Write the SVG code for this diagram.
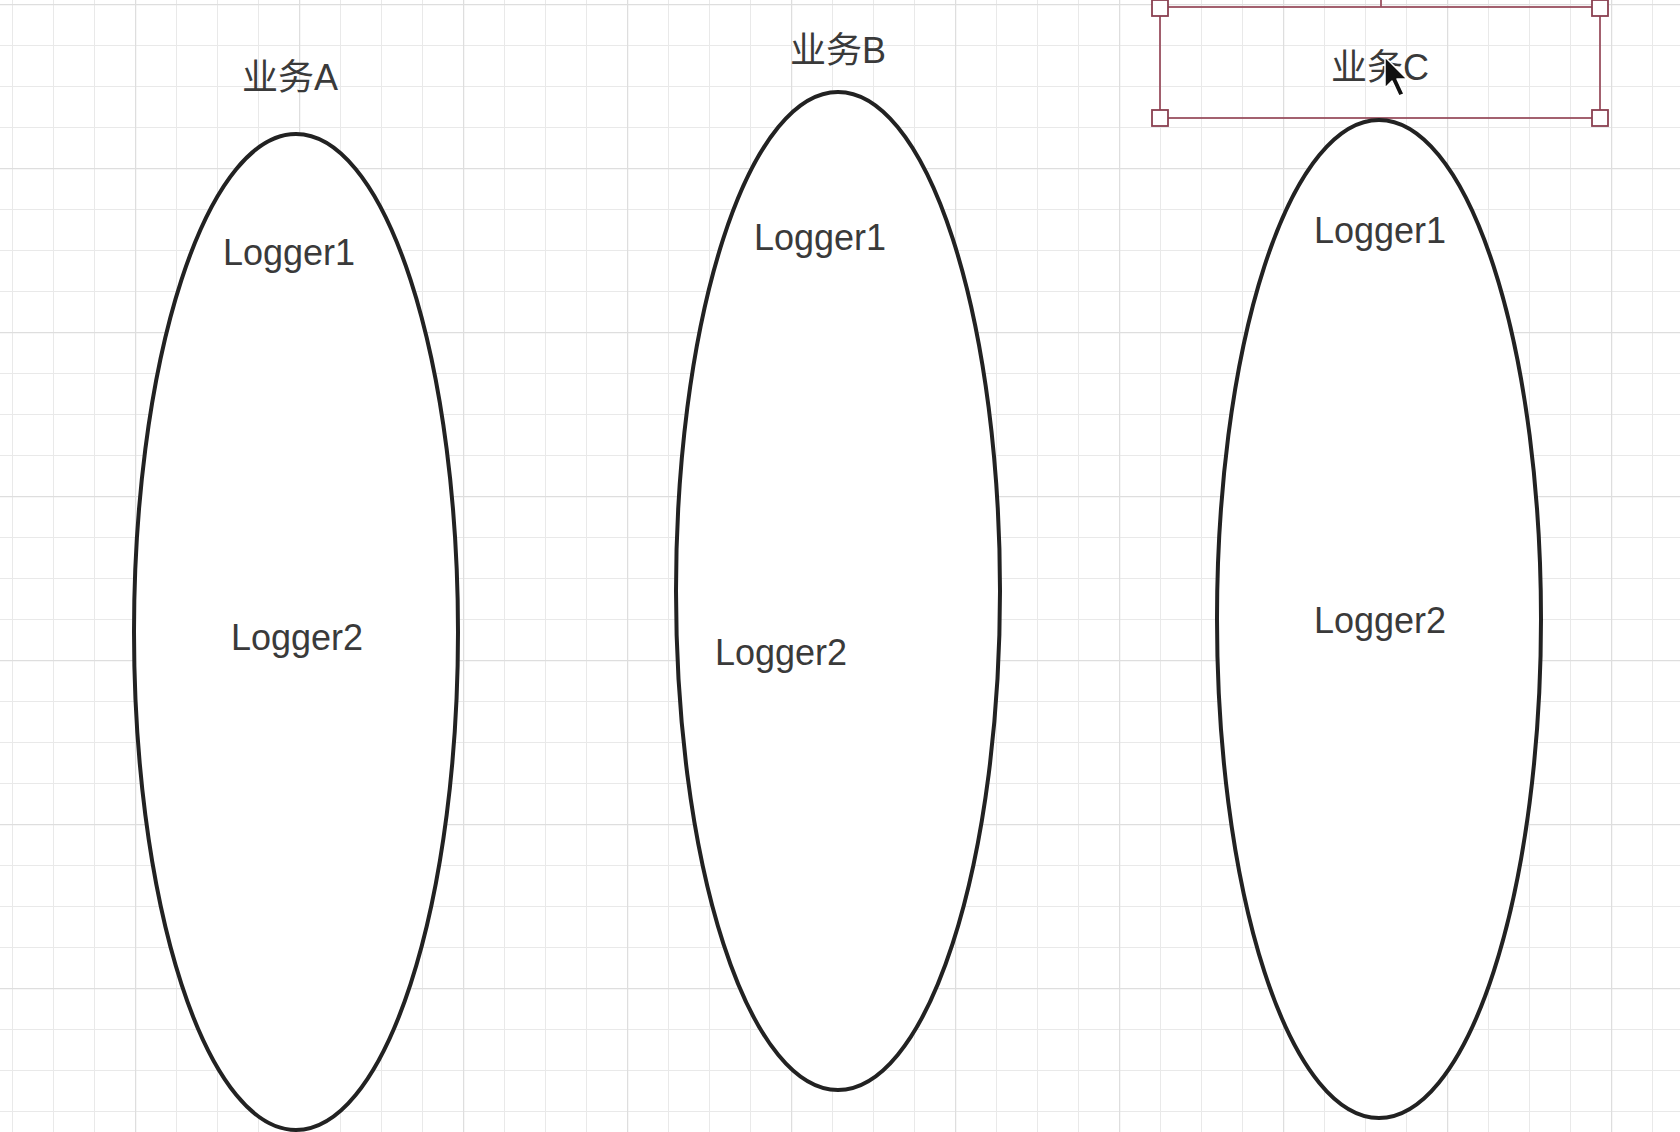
<svg xmlns="http://www.w3.org/2000/svg" width="1680" height="1132" viewBox="0 0 1680 1132">
  <defs>
    <pattern id="minor" x="12" y="4" width="41" height="41" patternUnits="userSpaceOnUse">
      <path d="M0 0 V41 M0 0 H41" fill="none" stroke="#e9e9e9" stroke-width="2"/>
    </pattern>
    <pattern id="major" x="-29" y="4" width="164" height="164" patternUnits="userSpaceOnUse">
      <path d="M0 0 V164 M0 0 H164" fill="none" stroke="#dedede" stroke-width="2.5"/>
    </pattern>
  </defs>
  <style>
    .ell { fill: #ffffff; stroke: #222222; stroke-width: 4; }
    .lbl { font-family: "Liberation Sans", "Noto Sans CJK SC", sans-serif; font-size: 36px; fill: #3a3a3a; text-anchor: middle; }
    .sel { fill: none; stroke: #9a5060; stroke-width: 1.8; }
    .hdl { fill: #ffffff; stroke: #8a4050; stroke-width: 1.8; }
  </style>
  <rect width="1680" height="1132" fill="#ffffff"/>
  <rect width="1680" height="1132" fill="url(#minor)"/>
  <rect width="1680" height="1132" fill="url(#major)"/>

  <g id="connectors"></g>

  <g id="nodeA">
    <text class="lbl" x="290" y="90">业务A</text>
    <ellipse class="ell" cx="296" cy="632" rx="162" ry="498"/>
    <text class="lbl" x="289" y="265">Logger1</text>
    <text class="lbl" x="297" y="650">Logger2</text>
  </g>

  <g id="nodeB">
    <text class="lbl" x="838" y="63">业务B</text>
    <ellipse class="ell" cx="838" cy="591" rx="162" ry="499"/>
    <text class="lbl" x="820" y="250">Logger1</text>
    <text class="lbl" x="781" y="665">Logger2</text>
  </g>

  <g id="nodeC">
    <rect class="sel" x="1160" y="7" width="440" height="111"/>
    <line class="sel" x1="1381" y1="0" x2="1381" y2="7"/>
    <rect class="hdl" x="1152" y="0" width="16" height="16"/>
    <rect class="hdl" x="1592" y="0" width="16" height="16"/>
    <rect class="hdl" x="1152" y="110" width="16" height="16"/>
    <rect class="hdl" x="1592" y="110" width="16" height="16"/>
    <text class="lbl" x="1380" y="80">业务C</text>
    <ellipse class="ell" cx="1379" cy="619" rx="162" ry="499"/>
    <text class="lbl" x="1380" y="243">Logger1</text>
    <text class="lbl" x="1380" y="633">Logger2</text>
  </g>

  <g id="cursor">
    <path d="M1385 57 L1385 88 L1392 81 L1399 96 L1404 94 L1397 79 L1407 79 Z" fill="#111111" stroke="#ffffff" stroke-width="1.5" stroke-linejoin="round"/>
  </g>
</svg>
